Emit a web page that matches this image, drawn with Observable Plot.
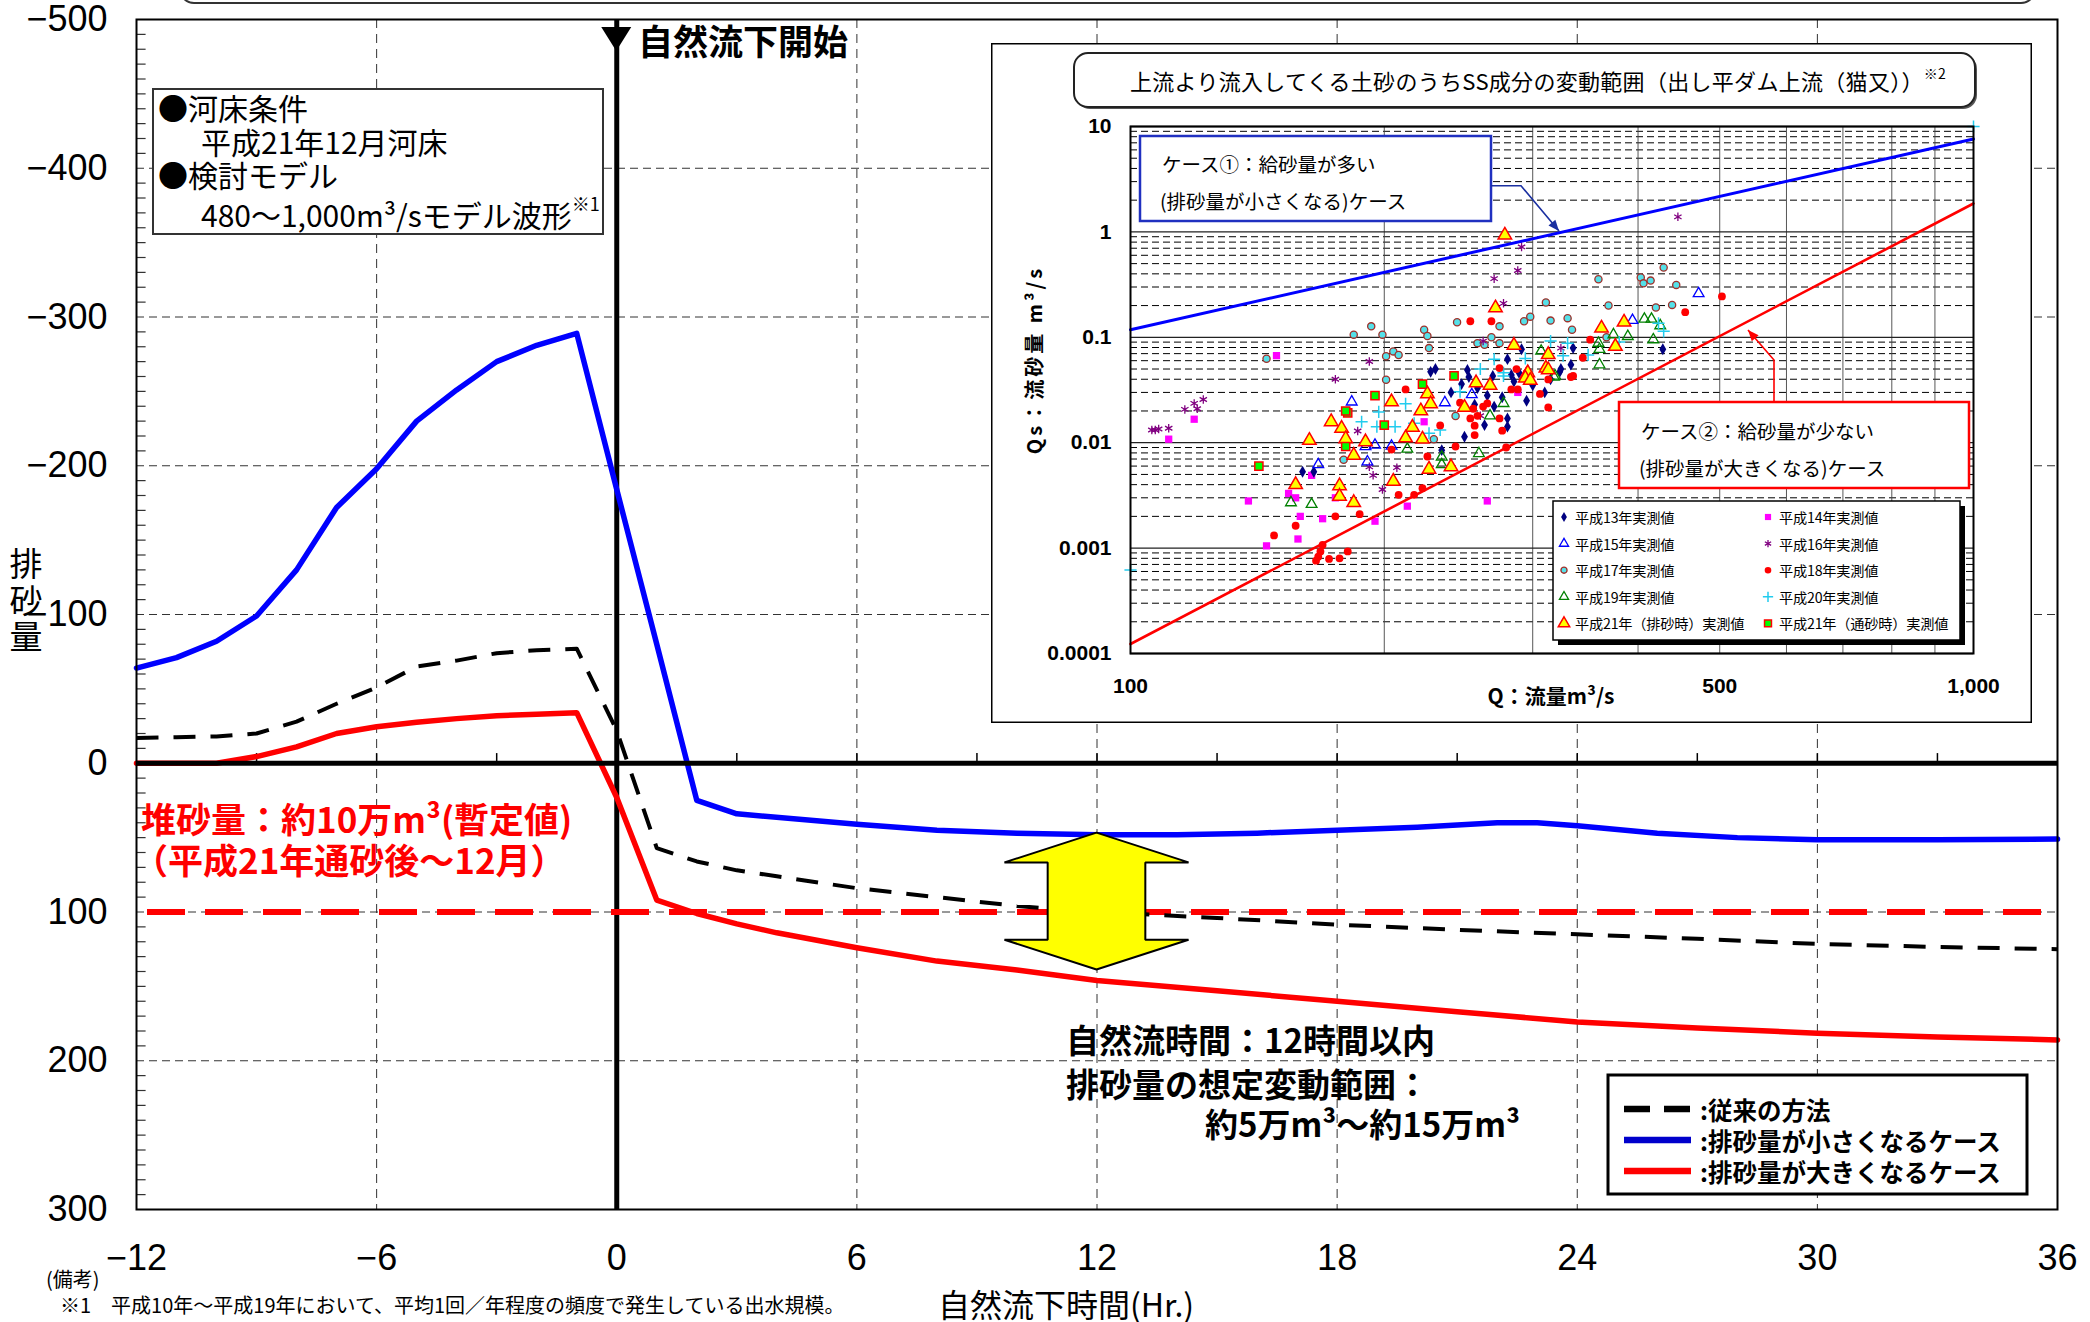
<!DOCTYPE html>
<html><head><meta charset="utf-8">
<script src="https://cdn.jsdelivr.net/npm/d3@7"></script>
<script src="https://cdn.jsdelivr.net/npm/@observablehq/plot@0.6"></script>
<style>
body{margin:0;background:#fff;}
#root{position:relative;width:2090px;height:1322px;overflow:hidden;background:#fff;}
#root > svg{position:absolute;max-width:none;}
</style></head>
<body><div id="root"></div>
<script>
// ---------------- main chart data ----------------
const xTickValues = [-12, -6, 0, 6, 12, 18, 24, 30, 36];
const yTickValues = [-500, -400, -300, -200, -100, 0, 100, 200, 300];
const xGridValues = [-6, 6, 12, 18, 24, 30];
const yGridValues = [-400, -300, -200, -100, 100, 200];

// 従来の方法 (black dashed)
const convHours  = [-12, -11, -10, -9, -8, -7, -6, -5, -4, -3, -2, -1, 0, 1, 2, 3, 4, 6, 8, 10, 12, 15, 18, 21, 24, 27, 30, 33, 36];
const convValues = [-17, -17.5, -18, -20, -28, -40, -51, -65, -69, -74, -76, -77, -22, 57, 66, 72, 76, 84, 90, 96, 100, 104, 108.5, 112, 115, 118, 121.5, 123.5, 125];
// 排砂量が小さくなるケース (blue)
const smallHours  = [-12, -11, -10, -9, -8, -7, -6, -5, -4, -3, -2, -1, 0, 1, 2, 3, 6, 8, 10, 12, 14, 16, 18, 20, 22, 23, 24, 26, 28, 30, 33, 36];
const smallValues = [-64, -71, -82, -99, -130, -172, -198, -230, -251, -270, -281, -289, -184, -80, 25, 34, 41, 45, 47, 48, 48, 47, 45, 43, 40, 40, 42, 47, 50, 51.5, 51.5, 51];
// 排砂量が大きくなるケース (red)
const largeHours  = [-12, -11, -10, -9, -8, -7, -6, -5, -4, -3, -2, -1, 0, 1, 2, 3, 4, 6, 8, 10, 12, 15, 18, 21, 24, 27, 30, 33, 36];
const largeValues = [0, 0, 0, -4.5, -11, -20, -24.5, -27.5, -30, -32, -33, -34, 23, 92, 101, 108, 114, 124, 133, 139, 146, 153, 160, 167, 174, 178, 181.5, 184, 186];
// 堆砂量 line
const depositLevel = [100];
// 想定変動範囲 arrow
const rangeArrow = {hour: 12, top: 47, bottom: 139};

// ---------------- inset data: [Q m3/s, Qs m3/s] ----------------
const h13 = [[428,0.077],[230,0.050],[251,0.049],[280,0.062],[291,0.077],[324,0.050],[333,0.055],[335,0.079],[283,0.044],[269,0.043],[227,0.047],[247,0.036],[252,0.042],[289,0.046],[323,0.047],[256,0.023],[265,0.028],[270,0.022],[276,0.027],[280,0.017],[280,0.0142],[263,0.0147],[249,0.0114],[234,0.0085],[160,0.0053],[165,0.0053],[240,0.030],[258,0.033],[300,0.035],[310,0.030],[285,0.038],[295,0.025],[315,0.040]];
const h14 = [[149,0.067],[119,0.0167],[111,0.0108],[138,0.0028],[154,0.0033],[157,0.0030],[159,0.0020],[158,0.00122],[145,0.00105],[164,0.0049],[169,0.0019],[175,0.0030],[195,0.0018],[213,0.0025],[223,0.0158],[265,0.0028],[288,0.030]];
const h15 = [[472,0.26],[394,0.145],[183,0.0244],[236,0.024],[254,0.0286],[167,0.0062],[190,0.0092],[195,0.0095],[204,0.0093],[191,0.0066]];
const h16 = [[446,1.39],[291,0.72],[288,0.43],[270,0.36],[277,0.21],[192,0.059],[175,0.040],[262,0.092],[324,0.079],[116,0.0207],[119,0.0236],[122,0.0257],[120,0.021],[106,0.0132],[107,0.0132],[108,0.0135],[111,0.0137],[186,0.0129],[192,0.0059],[194,0.0049],[207,0.0058],[199,0.0036],[260,0.018]];
const h17 = [[145,0.0625],[184,0.106],[193,0.127],[199,0.106],[201,0.066],[205,0.0735],[208,0.068],[223,0.118],[225,0.103],[226,0.079],[244,0.139],[274,0.127],[258,0.088],[263,0.085],[268,0.10],[274,0.088],[293,0.142],[298,0.157],[315,0.144],[330,0.152],[334,0.118],[311,0.214],[359,0.355],[403,0.37],[406,0.325],[414,0.345],[429,0.46],[444,0.314],[369,0.20],[420,0.192],[439,0.203],[367,0.10],[201,0.0395],[179,0.0069],[229,0.0108],[243,0.0179]];
const h18 = [[503,0.244],[455,0.173],[253,0.142],[268,0.142],[351,0.095],[344,0.064],[274,0.051],[287,0.050],[295,0.0457],[313,0.0398],[333,0.042],[335,0.043],[313,0.0216],[306,0.029],[283,0.032],[288,0.032],[246,0.024],[265,0.0236],[255,0.021],[253,0.017],[256,0.0145],[258,0.018],[262,0.022],[274,0.017],[276,0.013],[256,0.0118],[233,0.0146],[243,0.0092],[225,0.0074],[222,0.0037],[217,0.0032],[208,0.0032],[204,0.0086],[279,0.0090],[212,0.032],[187,0.0021],[175,0.0020],[157,0.00163],[148,0.00132],[169,0.00107],[168,0.00093],[167,0.00083],[166,0.00076],[172,0.00079],[177,0.0008],[181,0.00093]];
const h19 = [[407,0.149],[415,0.149],[425,0.129],[417,0.095],[389,0.102],[374,0.106],[359,0.088],[360,0.077],[360,0.055],[307,0.074],[318,0.042],[296,0.047],[319,0.043],[277,0.0236],[267,0.018],[213,0.0087],[234,0.0073],[234,0.0062],[259,0.0079],[155,0.0027],[164,0.0026]];
const h20 = [[429,0.114],[423,0.136],[380,0.090],[349,0.068],[330,0.088],[315,0.092],[326,0.067],[294,0.063],[270,0.062],[260,0.050],[277,0.043],[277,0.046],[246,0.0305],[197,0.0196],[212,0.0234],[188,0.0158],[196,0.0142],[206,0.0142],[217,0.0153],[226,0.0123],[233,0.0132],[100,0.00062],[1000,10]];
const h21a = [[278,0.93],[271,0.19],[362,0.122],[385,0.139],[376,0.082],[285,0.084],[313,0.0685],[311,0.051],[295,0.044],[296,0.046],[294,0.041],[298,0.039],[313,0.049],[257,0.037],[267,0.035],[225,0.029],[221,0.020],[227,0.0234],[249,0.0216],[204,0.0244],[216,0.014],[212,0.0111],[222,0.0108],[190,0.0102],[184,0.0076],[173,0.0158],[178,0.0137],[180,0.0109],[163,0.0105],[157,0.0040],[177,0.0039],[177,0.0031],[184,0.0027],[205,0.0043],[226,0.0056],[240,0.0059]];
const h21b = [[242,0.043],[222,0.036],[195,0.028],[181,0.0192],[180,0.020],[200,0.0147],[180,0.0092],[142,0.0060]];
// case lines (endpoints)
const caseQ = [100, 1000];
const case1Qs = [0.118, 7.6];
const case2Qs = [0.000123, 1.86];
const insetXTicks = [100, 500, 1000];
const insetXLabels = ["100", "500", "1,000"];
const insetYTicks = [0.0001, 0.001, 0.01, 0.1, 1, 10];
const insetYLabels = ["0.0001", "0.001", "0.01", "0.1", "1", "10"];
const insetNames = ["平成13年実測値","平成14年実測値","平成15年実測値","平成16年実測値","平成17年実測値","平成18年実測値","平成19年実測値","平成20年実測値","平成21年（排砂時）実測値","平成21年（通砂時）実測値"];

// ---------------- texts ----------------
const startLabel = "自然流下開始";
const conditionLines = ["●河床条件", "平成21年12月河床", "●検討モデル", "480～1,000m³/sモデル波形"];
const depositLines = ["堆砂量：約10万m³(暫定値)", "（平成21年通砂後～12月）"];
const rangeLines = ["自然流時間：12時間以内", "排砂量の想定変動範囲：", "約5万m³～約15万m³"];
const legendLabels = [":従来の方法", ":排砂量が小さくなるケース", ":排砂量が大きくなるケース"];
const yTitle = ["排", "砂", "量"];
const xTitle = "自然流下時間(Hr.)";
const notes = ["(備考)", "※1　平成10年～平成19年において、平均1回／年程度の頻度で発生している出水規模。", "なお、1,000m³/sクラス以上の大出水や、二山波形等の稀な出水は、対象としていない。"];
const insetTitle = "上流より流入してくる土砂のうちSS成分の変動範囲（出し平ダム上流（猫又））";
const case1Lines = ["ケース①：給砂量が多い", "(排砂量が小さくなる)ケース"];
const case2Lines = ["ケース②：給砂量が少ない", "(排砂量が大きくなる)ケース"];
const insetXTitle = "Q：流量m³/s";
const insetYTitle = "Qs：流砂量 m³/s";

// ---------------- helpers ----------------
const JP = "'Noto Sans CJK JP','Noto Sans CJK SC',sans-serif";
const NUM = "'Liberation Sans',Arial,sans-serif";
const rows = (hs, vs) => hs.map((h, i) => ({h, v: vs[i]}));
const pairs = (arr) => arr.map(([q, s]) => ({q, s}));
function txt(g, s, x, y, o = {}) {
  return g.append("text").attr("x", x).attr("y", y)
    .attr("font-family", o.family || JP).attr("font-size", o.size || 20)
    .attr("font-weight", o.weight || "normal").attr("fill", o.fill || "#000")
    .attr("text-anchor", o.anchor || "start").attr("dominant-baseline", "central")
    .attr("letter-spacing", o.ls || 0).text(s);
}
function arrowHead(g, x1, y1, x2, y2, color, len, half) {
  const a = Math.atan2(y2 - y1, x2 - x1);
  const bx = x2 - len * Math.cos(a), by = y2 - len * Math.sin(a);
  const px = -Math.sin(a) * half, py = Math.cos(a) * half;
  g.append("path").attr("d", `M${x2},${y2}L${bx + px},${by + py}L${bx - px},${by - py}Z`).attr("fill", color);
}

const root = document.getElementById("root");

// ---------------- main plot ----------------
const yMinor = d3.range(-490, 300, 10).filter(v => v % 100 !== 0);
const xMinor = d3.range(-9, 36, 3).filter(v => v !== 0);
const aw = {head: 20, shaft: 1.22, wing: 2.3};
const arrowPts = [
  {v: rangeArrow.top, w: 0},
  {v: rangeArrow.top + aw.head, w: aw.wing},
  {v: rangeArrow.top + aw.head, w: aw.shaft},
  {v: rangeArrow.bottom - aw.head, w: aw.shaft},
  {v: rangeArrow.bottom - aw.head, w: aw.wing},
  {v: rangeArrow.bottom, w: 0}
];

const main = Plot.plot({
  width: 2090, height: 1322,
  marginLeft: 136, marginRight: 33, marginTop: 19, marginBottom: 113,
  x: {domain: [-12, 36], label: null},
  y: {domain: [-500, 300], reverse: true, label: null},
  style: {fontFamily: NUM, fontSize: "36px", background: "transparent", overflow: "visible"},
  marks: [
    Plot.gridY(yGridValues, {stroke: "#333", strokeOpacity: 1, strokeWidth: 1, strokeDasharray: "8,5"}),
    Plot.gridX(xGridValues, {stroke: "#333", strokeOpacity: 1, strokeWidth: 1, strokeDasharray: "9,6"}),
    Plot.ruleY(yMinor, {x1: -12, x2: -11.76, stroke: "#333", strokeWidth: 1.2}),
    Plot.ruleX(xMinor, {y1: 0, y2: -6.5, stroke: "#000", strokeWidth: 1.5}),
    Plot.ruleX([0], {stroke: "#000", strokeWidth: 5}),
    Plot.ruleY(depositLevel, {stroke: "#ff0000", strokeWidth: 6, strokeDasharray: "38,20", strokeDashoffset: -11}),
    Plot.line(rows(largeHours, largeValues), {x: "h", y: "v", stroke: "#ff0000", strokeWidth: 5.5, strokeLinejoin: "round"}),
    Plot.line(rows(smallHours, smallValues), {x: "h", y: "v", stroke: "#0000ff", strokeWidth: 5.5, strokeLinejoin: "round"}),
    Plot.line(rows(convHours, convValues), {x: "h", y: "v", stroke: "#000", strokeWidth: 4, strokeDasharray: "22,15", strokeLinecap: "butt"}),
    Plot.ruleY([0], {stroke: "#000", strokeWidth: 5}),
    Plot.areaX(arrowPts, {y: "v", x1: d => rangeArrow.hour - d.w, x2: d => rangeArrow.hour + d.w, fill: "#ffff00", fillOpacity: 1, stroke: "#000", strokeWidth: 2, strokeLinejoin: "miter"}),
    Plot.axisY(yTickValues, {tickSize: 0, tickPadding: 29, fontSize: 36, fontFamily: NUM, label: null}),
    Plot.axisX(xTickValues, {tickSize: 0, tickPadding: 35, fontSize: 36, fontFamily: NUM, label: null}),
    Plot.frame({stroke: "#000", strokeWidth: 2})
  ]
});
main.style.left = "0px"; main.style.top = "0px";
root.appendChild(main);

const xs = main.scale("x"), ys = main.scale("y");
const g = d3.select(main).append("g");

// cut-off top box
g.append("rect").attr("x", 180).attr("y", -40).attr("width", 1855).attr("height", 43).attr("rx", 14)
  .attr("fill", "none").attr("stroke", "#333").attr("stroke-width", 2);

// start marker
const x0 = xs.apply(0);
g.append("path").attr("d", `M${x0 - 15},${ys.apply(-500) + 8}L${x0 + 15},${ys.apply(-500) + 8}L${x0},${ys.apply(-500) + 32}Z`).attr("fill", "#000");
txt(g, startLabel, 638, 39, {size: 35, weight: "bold"});

// condition box
g.append("rect").attr("x", 153).attr("y", 89).attr("width", 450).attr("height", 145)
  .attr("fill", "#fff").attr("stroke", "#333").attr("stroke-width", 2);
txt(g, conditionLines[0], 158, 107, {size: 30});
txt(g, conditionLines[1], 201, 141, {size: 30});
txt(g, conditionLines[2], 158, 174, {size: 30});
txt(g, conditionLines[3], 201, 214, {size: 30})
  .append("tspan").attr("font-size", 18).attr("dy", -11).text("※1");

// deposit text (red)
txt(g, depositLines[0], 141, 817, {size: 35, weight: "bold", fill: "#ff0000"});
txt(g, depositLines[1], 133, 858, {size: 35, weight: "bold", fill: "#ff0000"});

// range text
txt(g, rangeLines[0], 1066, 1039, {size: 33, weight: "bold"});
txt(g, rangeLines[1], 1066, 1083, {size: 33, weight: "bold"});
txt(g, rangeLines[2], 1205, 1123, {size: 33, weight: "bold"});

// y title
yTitle.forEach((c, i) => txt(g, c, 26, 562 + i * 36.5, {size: 33, anchor: "middle"}));
// x title
txt(g, xTitle, 1066, 1303, {size: 32, anchor: "middle"});
// notes
txt(g, notes[0], 46, 1278, {size: 20});
txt(g, notes[1], 60, 1304, {size: 20});
txt(g, notes[2], 105, 1331, {size: 20});

// legend
g.append("rect").attr("x", 1608).attr("y", 1075).attr("width", 419).attr("height", 119)
  .attr("fill", "#fff").attr("stroke", "#000").attr("stroke-width", 3);
const legStyles = [
  {stroke: "#000", dash: "26,14"},
  {stroke: "#0000cc", dash: null},
  {stroke: "#ff0000", dash: null}
];
legendLabels.forEach((lab, i) => {
  const cy = 1109 + i * 31;
  const l = g.append("line").attr("x1", 1624).attr("x2", 1691).attr("y1", cy).attr("y2", cy)
    .attr("stroke", legStyles[i].stroke).attr("stroke-width", 6.5);
  if (legStyles[i].dash) l.attr("stroke-dasharray", legStyles[i].dash);
  txt(g, lab, 1700, cy, {size: 24.5, weight: "bold"});
});

// ---------------- inset ----------------
const OX = 991, OY = 43, IW = 1041, IH = 680;
const decades = [0.0001, 0.001, 0.01, 0.1, 1, 10];
const minorY = [];
[0.0001, 0.001, 0.01, 0.1, 1].forEach(d => { for (let k = 2; k <= 9; k++) minorY.push(d * k); });
const vertGrid = [200, 300, 400, 500, 600, 700, 800, 900];

const insetStyles = [
  {symbol: "diamond", fill: "#000080", stroke: "none", r: 3.6, sw: 0},
  {symbol: "square", fill: "#ff00ff", stroke: "none", r: 4.1, sw: 0},
  {symbol: "triangle", fill: "none", stroke: "#0000ff", r: 4, sw: 1.3},
  {symbol: "asterisk", fill: "none", stroke: "#800080", r: 4, sw: 1.3},
  {symbol: "circle", fill: "#55e0e8", stroke: "#a0302a", r: 3.6, sw: 1.3},
  {symbol: "circle", fill: "#ff0000", stroke: "none", r: 3.9, sw: 0},
  {symbol: "triangle", fill: "none", stroke: "#008000", r: 4, sw: 1.3},
  {symbol: "plus", fill: "none", stroke: "#22ccee", r: 4, sw: 1.5},
  {symbol: "triangle", fill: "#ffff00", stroke: "#ff0000", r: 5, sw: 1.5},
  {symbol: "square", fill: "#00ff00", stroke: "#ff0000", r: 4.6, sw: 1.5}
];
const insetSeries = [h13, h14, h15, h16, h17, h18, h19, h20, h21a, h21b];
const drawOrder = [4, 3, 1, 0, 2, 6, 7, 5, 8, 9];

const inset = Plot.plot({
  width: IW, height: IH,
  marginLeft: 139, marginTop: 83, marginRight: 59, marginBottom: 70,
  x: {type: "log", domain: [100, 1000], label: null},
  y: {type: "log", domain: [0.0001, 10], label: null},
  style: {background: "#fff", fontFamily: NUM, overflow: "visible"},
  marks: [
    Plot.ruleY(minorY, {stroke: "#000", strokeWidth: 1, strokeDasharray: "7,4"}),
    Plot.ruleX(vertGrid, {stroke: "#444", strokeWidth: 0.9}),
    Plot.ruleY(decades, {stroke: "#222", strokeWidth: 1.3}),
    ...drawOrder.map(i => Plot.dot(pairs(insetSeries[i]), {
      x: "q", y: "s", symbol: insetStyles[i].symbol, r: insetStyles[i].r,
      fill: insetStyles[i].fill, stroke: insetStyles[i].stroke, strokeWidth: insetStyles[i].sw
    })),
    Plot.line(caseQ.map((q, i) => ({q, s: case1Qs[i]})), {x: "q", y: "s", stroke: "#0000ff", strokeWidth: 3}),
    Plot.line(caseQ.map((q, i) => ({q, s: case2Qs[i]})), {x: "q", y: "s", stroke: "#ff0000", strokeWidth: 2.6}),
    Plot.axisY(insetYTicks, {tickSize: 0, tickPadding: 19, fontSize: 21, fontWeight: "bold", fontFamily: NUM,
      tickFormat: d => insetYLabels[insetYTicks.indexOf(d)], label: null}),
    Plot.axisX(insetXTicks, {tickSize: 0, tickPadding: 25, fontSize: 21, fontWeight: "bold", fontFamily: NUM,
      tickFormat: d => insetXLabels[insetXTicks.indexOf(d)], label: null}),
    Plot.frame({stroke: "#000", strokeWidth: 2})
  ]
});
inset.style.left = OX + "px"; inset.style.top = OY + "px";
root.appendChild(inset);
const ig = d3.select(inset).append("g");
const P = (x, y) => [x - OX, y - OY];

// outer border
ig.append("rect").attr("x", 0.75).attr("y", 0.75).attr("width", IW - 1.5).attr("height", IH - 1.5)
  .attr("fill", "none").attr("stroke", "#000").attr("stroke-width", 1.5);
// title box
ig.append("rect").attr("x", 1076 - OX).attr("y", 55 - OY).attr("width", 901).attr("height", 54).attr("rx", 14)
  .attr("fill", "#555");
ig.append("rect").attr("x", 1074 - OX).attr("y", 53 - OY).attr("width", 901).attr("height", 54).attr("rx", 14)
  .attr("fill", "#fff").attr("stroke", "#222").attr("stroke-width", 2);
txt(ig, insetTitle, ...P(1130, 80), {size: 22, ls: 0.3})
  .append("tspan").attr("font-size", 14).attr("dy", -7).text("※2");

// axis titles
txt(ig, insetXTitle, ...P(1551, 695), {size: 21, weight: "bold", anchor: "middle"});
ig.append("text").attr("transform", `translate(${1033 - OX},${360 - OY}) rotate(-90)`)
  .attr("font-family", JP).attr("font-size", 20).attr("font-weight", "bold").attr("letter-spacing", 3)
  .attr("text-anchor", "middle").attr("dominant-baseline", "central").text(insetYTitle);

// case 1 callout
ig.append("rect").attr("x", 1140 - OX).attr("y", 136 - OY).attr("width", 351).attr("height", 85)
  .attr("fill", "#fff").attr("stroke", "#2030c0").attr("stroke-width", 2.5);
txt(ig, case1Lines[0], ...P(1162, 163), {size: 19.5});
txt(ig, case1Lines[1], ...P(1160, 200), {size: 19.5});
const bp = [P(1491, 185.7), P(1521, 185.7), P(1559, 231)];
ig.append("polyline").attr("points", bp.map(p => p.join(",")).join(" ")).attr("fill", "none")
  .attr("stroke", "#1a2fa0").attr("stroke-width", 1.6);
arrowHead(ig, ...bp[1], ...bp[2], "#1a2fa0", 11, 4.5);

// case 2 callout
ig.append("rect").attr("x", 1619 - OX).attr("y", 402 - OY).attr("width", 350).attr("height", 86)
  .attr("fill", "#fff").attr("stroke", "#ff0000").attr("stroke-width", 2.5);
txt(ig, case2Lines[0], ...P(1641, 430), {size: 19.5});
txt(ig, case2Lines[1], ...P(1639, 467), {size: 19.5});
const rp = [P(1774, 402), P(1774, 360), P(1748, 330)];
ig.append("polyline").attr("points", rp.map(p => p.join(",")).join(" ")).attr("fill", "none")
  .attr("stroke", "#ff0000").attr("stroke-width", 1.6);
arrowHead(ig, ...rp[1], ...rp[2], "#ff0000", 11, 4.5);

// inset legend
ig.append("rect").attr("x", 1558 - OX).attr("y", 506 - OY).attr("width", 407).attr("height", 139).attr("fill", "#000");
ig.append("rect").attr("x", 1553 - OX).attr("y", 501 - OY).attr("width", 407).attr("height", 139)
  .attr("fill", "#fff").attr("stroke", "#000").attr("stroke-width", 1.5);
const symMap = {diamond: d3.symbolDiamond, square: d3.symbolSquare, triangle: d3.symbolTriangle,
  asterisk: d3.symbolAsterisk, circle: d3.symbolCircle, plus: d3.symbolPlus};
insetNames.forEach((name, i) => {
  const col = i % 2, row = Math.floor(i / 2);
  const cy = 517 + row * 26.6;
  const mx = col ? 1768 : 1564, tx = col ? 1779 : 1575;
  const st = insetStyles[i];
  const [px, py] = P(mx, cy);
  ig.append("path").attr("transform", `translate(${px},${py})`)
    .attr("d", d3.symbol(symMap[st.symbol], Math.PI * (st.r * 0.85) ** 2)())
    .attr("fill", st.fill).attr("stroke", st.stroke).attr("stroke-width", st.sw);
  txt(ig, name, ...P(tx, cy), {size: 14.2, ls: -0.2});
});
</script></body></html>
